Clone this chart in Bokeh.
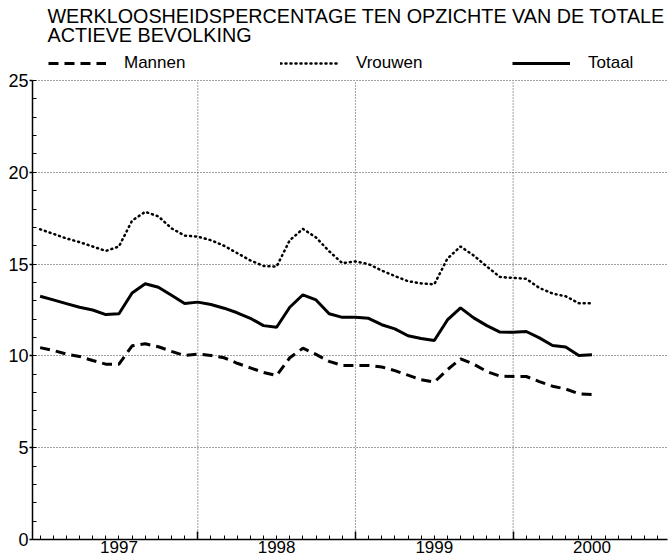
from bokeh.plotting import figure
from bokeh.models import (Range1d, FixedTicker, LinearAxis, Legend, LegendItem, Grid, Label)
from bokeh.embed import file_html
from bokeh.resources import INLINE

# ---- data ----
jaren = ["1997", "1998", "1999", "2000"]
titel_1 = "WERKLOOSHEIDSPERCENTAGE TEN OPZICHTE VAN DE TOTALE"
titel_2 = "ACTIEVE BEVOLKING"
reeks_namen = ["Mannen", "Vrouwen", "Totaal"]
y_ticks = [0, 5, 10, 15, 20, 25]

# monthly values, Jan 1997 .. Jul 2000
mannen = [10.45, 10.3, 10.1, 9.97, 9.75, 9.55, 9.55, 10.55, 10.66, 10.5, 10.25, 10.02,
          10.1, 10.02, 9.9, 9.6, 9.35, 9.1, 8.93, 9.9, 10.42, 10.08, 9.7, 9.48,
          9.48, 9.48, 9.4, 9.2, 8.95, 8.7, 8.57, 9.25, 9.84, 9.55, 9.15, 8.9,
          8.88, 8.88, 8.6, 8.35, 8.2, 7.94, 7.9]
vrouwen = [16.9, 16.65, 16.4, 16.2, 15.96, 15.72, 15.96, 17.37, 17.85, 17.6, 16.95, 16.55,
           16.5, 16.3, 16.0, 15.6, 15.2, 14.9, 14.87, 16.3, 16.92, 16.45, 15.7, 15.05,
           15.15, 15.0, 14.65, 14.35, 14.07, 13.95, 13.9, 15.3, 15.96, 15.47, 14.87, 14.3,
           14.25, 14.2, 13.7, 13.4, 13.25, 12.87, 12.87]
totaal = [13.25, 13.05, 12.85, 12.65, 12.5, 12.25, 12.3, 13.43, 13.93, 13.74, 13.3, 12.85,
          12.93, 12.8, 12.6, 12.35, 12.05, 11.65, 11.56, 12.65, 13.33, 13.05, 12.3, 12.1,
          12.1, 12.05, 11.7, 11.47, 11.1, 10.95, 10.84, 11.96, 12.62, 12.07, 11.65, 11.3,
          11.29, 11.33, 10.98, 10.57, 10.48, 10.02, 10.06]

maanden = list(range(len(totaal)))
FONT = "Liberation Sans"
FRAME_H = 539          # frame spans title area + plot area
Y_TOP = 29.36          # extra room above 25 for title and legend

p = figure(frame_width=635, frame_height=FRAME_H, output_backend="svg", toolbar_location=None,
           x_range=Range1d(-0.58, 47.75), y_range=Range1d(0, Y_TOP),
           x_axis_type=None, y_axis_type=None,
           min_border_left=32, min_border_right=2, min_border_top=0, min_border_bottom=0)
p.outline_line_color = None
p.background_fill_color = "white"
p.border_fill_color = "white"

grens = [12 * i for i in range(1, len(jaren))]
midden = [12 * i + 6 for i in range(len(jaren))]

# horizontal grid
p.add_layout(Grid(dimension=1, ticker=FixedTicker(ticks=y_ticks),
                  grid_line_color="#444444", grid_line_dash="1 2", grid_line_width=1))
# vertical grid, limited to the value range
p.segment(x0=grens, y0=[y_ticks[0]] * len(grens), x1=grens, y1=[y_ticks[-1]] * len(grens),
          line_color="#444444", line_dash="1 2", line_width=1)

ya = LinearAxis(ticker=FixedTicker(ticks=y_ticks, minor_ticks=list(range(0, 26))),
                bounds=(y_ticks[0], y_ticks[-1]),
                axis_line_width=1.5, axis_line_color="black",
                major_tick_in=0, major_tick_out=3, major_tick_line_width=1.5,
                minor_tick_in=4, minor_tick_out=0, minor_tick_line_width=1,
                major_label_standoff=1, major_label_text_font=FONT,
                major_label_text_font_size="18px", major_label_text_color="black")
p.add_layout(ya, "left")

xa = LinearAxis(ticker=FixedTicker(ticks=grens, minor_ticks=list(range(0, 48))),
                major_label_overrides={g: "" for g in grens},
                axis_line_width=1.5, axis_line_color="black",
                major_tick_in=8, major_tick_out=0, major_tick_line_width=1.5,
                minor_tick_in=4, minor_tick_out=0, minor_tick_line_width=1,
                major_label_text_font_size="1px", major_label_standoff=0)
p.add_layout(xa, "below")
xb = LinearAxis(ticker=FixedTicker(ticks=midden),
                major_label_overrides={m: j for m, j in zip(midden, jaren)},
                axis_line_color=None, major_tick_line_color=None, minor_tick_line_color=None,
                major_tick_in=0, major_tick_out=0,
                major_label_standoff=1, major_label_text_font=FONT,
                major_label_text_font_size="17px", major_label_text_color="black")
p.add_layout(xb, "below")

r_m = p.line(maanden, mannen, line_color="black", line_width=3, line_dash="10 6")
r_v = p.line(maanden, vrouwen, line_color="black", line_width=2.5, line_dash="1 4", line_cap="round")
r_t = p.line(maanden, totaal, line_color="black", line_width=3)

# title (two lines) in the space above the value range
for tekst, yb in [(titel_1, 28.49), (titel_2, 27.5)]:
    p.add_layout(Label(x=0.56, y=yb, text=tekst, text_baseline="alphabetic", text_align="left",
                       text_font=FONT, text_font_size="19.75px", text_color="black"))

legend = Legend(items=[LegendItem(label=n, renderers=[r]) for n, r in zip(reeks_namen, [r_m, r_v, r_t])],
                orientation="horizontal", location=(16, 466),
                glyph_width=58, glyph_height=14, label_standoff=18, label_width=150,
                spacing=6, padding=0, margin=0, border_line_color=None,
                background_fill_alpha=0, label_text_font=FONT, label_text_font_size="17px",
                label_text_color="black")
p.add_layout(legend)

open("out.html", "w").write(file_html(p, INLINE))
